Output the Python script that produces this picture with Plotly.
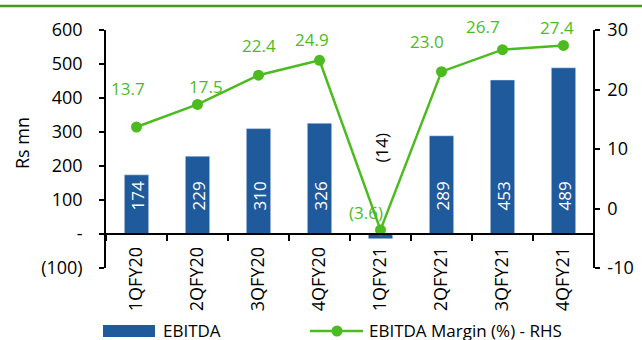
import plotly.graph_objects as go

categories = ["1QFY20", "2QFY20", "3QFY20", "4QFY20", "1QFY21", "2QFY21", "3QFY21", "4QFY21"]
ebitda = [174, 229, 310, 326, -14, 289, 453, 489]
margin_pct = [13.7, 17.5, 22.4, 24.9, -3.6, 23.0, 26.7, 27.4]
margin_labels = ["13.7", "17.5", "22.4", "24.9", "(3.6)", "23.0", "26.7", "27.4"]
ebitda_labels = ["174", "229", "310", "326", "(14)", "289", "453", "489"]

left_ticks = [-100, 0, 100, 200, 300, 400, 500, 600]
left_ticktext = ["(100)", "-", "100", "200", "300", "400", "500", "600"]
right_ticks = [-10, 0, 10, 20, 30]
right_ticktext = ["-10", "0", "10", "20", "30"]

# label placement offsets (pixels)
label_dx = [-9, 8, 0, -8, -15, -15, -20, -7]
label_dy = [38, 18, 30, 21, 17, 30, 23, 18]

FONT = "Open Sans"
FS = 18
BLUE = "#1F5A9C"
GREEN = "#4CBB1F"
DKGREEN = "#4A961E"

fig = go.Figure()
fig.add_trace(go.Bar(x=categories, y=ebitda, marker_color=BLUE, width=0.4,
                     name="EBITDA", showlegend=False))
fig.add_trace(go.Scatter(x=categories, y=margin_pct, yaxis="y2", mode="lines+markers",
                         line=dict(color=GREEN, width=2.5),
                         marker=dict(color=GREEN, size=11),
                         name="EBITDA Margin (%) - RHS", showlegend=False))

ann = []
for c, v, t in zip(categories, ebitda, ebitda_labels):
    neg = v < 0
    ann.append(dict(x=c, y=0, xref="x", yref="y", text=t, showarrow=False, textangle=-90,
                    xanchor="center", yanchor="middle", yshift=86 if neg else 38,
                    font=dict(family=FONT, size=17, color="black" if neg else "white")))
for c, v, t, dx, dy in zip(categories, margin_pct, margin_labels, label_dx, label_dy):
    ann.append(dict(x=c, y=v, xref="x", yref="y2", text=t, showarrow=False,
                    xanchor="center", yanchor="middle", xshift=dx, yshift=dy,
                    font=dict(family=FONT, size=17, color=GREEN)))
# y title
ann.append(dict(x=0, y=0.5, xref="paper", yref="paper", text="Rs mn", showarrow=False,
                textangle=-90, xanchor="center", yanchor="middle", xshift=-84, yshift=6,
                font=dict(family=FONT, size=FS, color="black")))
# legend texts
ann.append(dict(x=0, y=0, xref="paper", yref="paper", text="EBITDA", showarrow=False,
                xanchor="left", yanchor="middle", xshift=55, yshift=-62, height=20,
                font=dict(family=FONT, size=17, color="black")))
ann.append(dict(x=0, y=0, xref="paper", yref="paper", text="EBITDA Margin (%) - RHS", showarrow=False,
                xanchor="left", yanchor="middle", xshift=261, yshift=-62, height=20,
                font=dict(family=FONT, size=17, color="black")))

shapes = [
    dict(type="line", xref="paper", yref="paper", xsizemode="pixel", ysizemode="pixel",
         xanchor=0, yanchor=1, x0=-106, x1=536, y0=24, y1=24,
         line=dict(color=DKGREEN, width=2.5)),
    dict(type="rect", xref="paper", yref="paper", xsizemode="pixel", ysizemode="pixel",
         xanchor=0, yanchor=0, x0=-3, x1=49, y0=-69, y1=-57,
         fillcolor=BLUE, line=dict(width=0)),
    dict(type="line", xref="paper", yref="paper", xsizemode="pixel", ysizemode="pixel",
         xanchor=0, yanchor=0, x0=204, x1=257, y0=-63, y1=-63,
         line=dict(color=GREEN, width=2.5)),
    dict(type="circle", xref="paper", yref="paper", xsizemode="pixel", ysizemode="pixel",
         xanchor=0, yanchor=0, x0=225.5, x1=236.5, y0=-68.5, y1=-57.5,
         fillcolor=GREEN, line=dict(width=0)),
]

axis_common = dict(showline=True, linecolor="black", linewidth=1.5, ticks="outside",
                   tickcolor="black", tickwidth=1.5, showgrid=False, zeroline=False,
                   automargin=False,
                   tickfont=dict(family=FONT, size=FS, color="black"))

fig.update_layout(
    width=642, height=340, margin=dict(l=106, r=48, t=30, b=72, autoexpand=False),
    paper_bgcolor="white", plot_bgcolor="white", showlegend=False,
    font=dict(family=FONT, size=FS, color="black"),
    xaxis=dict(type="category", categoryorder="array", categoryarray=categories,
               range=[-0.5, 7.5], anchor="free", position=1/7, tickson="boundaries",
               ticklen=6, tickangle=-90, ticklabelstandoff=5, **axis_common),
    yaxis=dict(range=[-100, 600], tickvals=left_ticks, ticktext=left_ticktext,
               ticklen=5, domain=[0, 1], ticklabelstandoff=13, **axis_common),
    yaxis2=dict(range=[-10, 30], tickvals=right_ticks, ticktext=right_ticktext,
                overlaying="y", side="right", anchor="free", position=1, ticklen=5,
                ticklabelstandoff=4, **axis_common),
    annotations=ann, shapes=shapes, bargap=0.6,
)

fig.write_html("out.html")
